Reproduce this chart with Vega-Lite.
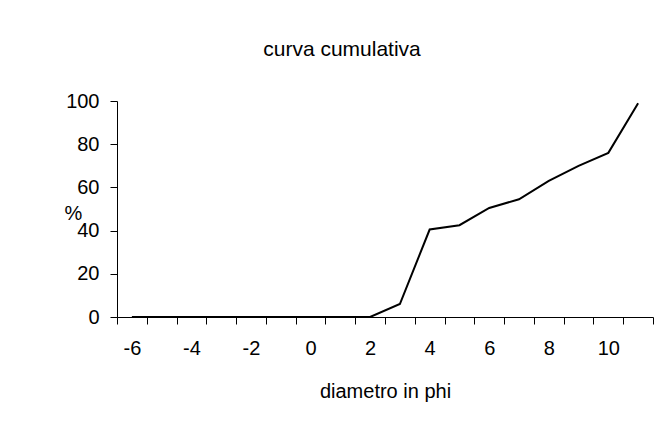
{
  "$schema": "https://vega.github.io/schema/vega-lite/v6.json",
  "autosize": {"type": "none"},
  "width": 536,
  "height": 216,
  "padding": {"left": 117, "top": 101, "right": 16, "bottom": 110},
  "background": "white",
  "config": {
    "view": {"stroke": null},
    "font": "Liberation Sans"
  },
  "title": {
    "text": "curva cumulativa",
    "fontSize": 21,
    "fontWeight": "normal",
    "font": "Liberation Sans",
    "color": "black",
    "anchor": "middle",
    "dx": -43,
    "baseline": "alphabetic",
    "offset": 14
  },
  "data": {
    "values": [
      {"phi": -6, "pct": 0},
      {"phi": -5, "pct": 0},
      {"phi": -4, "pct": 0},
      {"phi": -3, "pct": 0},
      {"phi": -2, "pct": 0},
      {"phi": -1, "pct": 0},
      {"phi": 0, "pct": 0},
      {"phi": 1, "pct": 0},
      {"phi": 2, "pct": 0},
      {"phi": 3, "pct": 6},
      {"phi": 4, "pct": 40.5},
      {"phi": 5, "pct": 42.5},
      {"phi": 6, "pct": 50.5},
      {"phi": 7, "pct": 54.5},
      {"phi": 8, "pct": 63},
      {"phi": 9, "pct": 70},
      {"phi": 10, "pct": 76},
      {"phi": 11, "pct": 99}
    ]
  },
  "mark": {"type": "line", "color": "black", "strokeWidth": 2},
  "encoding": {
    "x": {
      "field": "phi",
      "type": "quantitative",
      "scale": {"domain": [-6.5, 11.5], "nice": false, "zero": false},
      "axis": {
        "title": "diametro in phi",
        "titleFontSize": 20,
        "titleFontWeight": "normal",
        "titleFont": "Liberation Sans",
        "titleColor": "black",
        "titleBaseline": "middle",
        "titleY": 74,
        "values": [-6.5, -6, -5.5, -4.5, -4, -3.5, -2.5, -2, -1.5, -0.5, 0, 0.5, 1.5, 2, 2.5, 3.5, 4, 4.5, 5.5, 6, 6.5, 7.5, 8, 8.5, 9.5, 10, 10.5, 11.5],
        "labelExpr": "datum.value % 2 === 0 ? '' + datum.value : ''",
        "labelOverlap": false,
        "labelFlush": false,
        "labelFontSize": 20,
        "labelFont": "Liberation Sans",
        "labelColor": "black",
        "labelPadding": 14,
        "tickSize": 7,
        "tickColor": "black",
        "tickOpacity": {"condition": {"test": "datum.value % 1 === 0", "value": 0}, "value": 1},
        "domainColor": "black",
        "grid": false
      }
    },
    "y": {
      "field": "pct",
      "type": "quantitative",
      "scale": {"domain": [0, 100], "nice": false},
      "axis": {
        "title": "%",
        "titleAngle": 0,
        "titleX": -44,
        "titleY": 112,
        "titleAlign": "center",
        "titleBaseline": "middle",
        "titleFontSize": 20,
        "titleFontWeight": "normal",
        "titleFont": "Liberation Sans",
        "titleColor": "black",
        "values": [0, 20, 40, 60, 80, 100],
        "labelFontSize": 20,
        "labelFont": "Liberation Sans",
        "labelColor": "black",
        "labelPadding": 11,
        "labelFlush": false,
        "tickSize": 7,
        "tickColor": "black",
        "domainColor": "black",
        "grid": false
      }
    }
  }
}
